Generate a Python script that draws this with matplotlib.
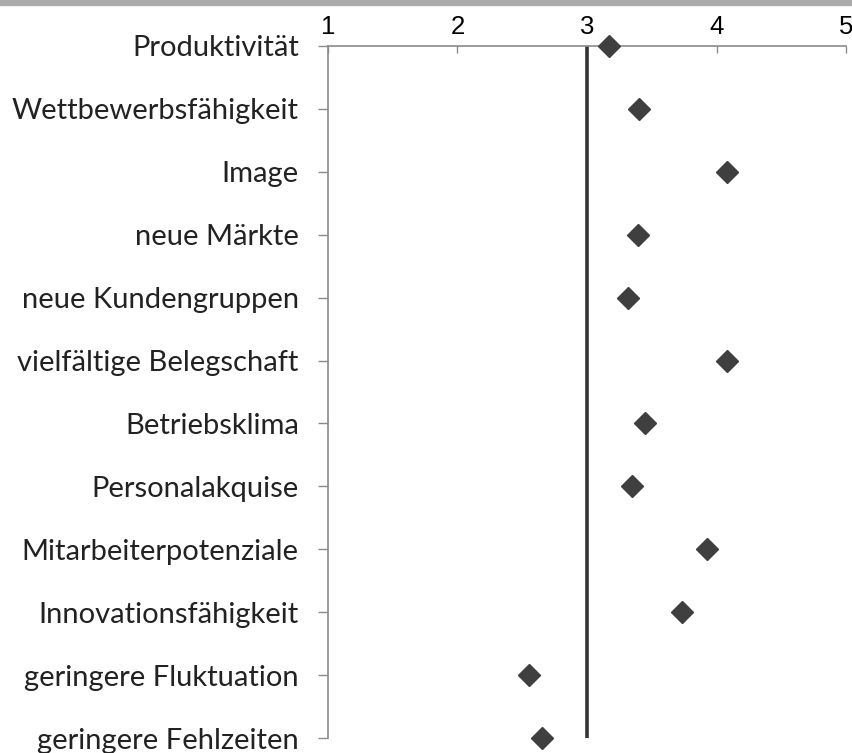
import matplotlib
matplotlib.use("Agg")
import matplotlib.pyplot as plt
from matplotlib.patches import Rectangle

categories = ["Produktivität", "Wettbewerbsfähigkeit", "Image", "neue Märkte",
              "neue Kundengruppen", "vielfältige Belegschaft", "Betriebsklima",
              "Personalakquise", "Mitarbeiterpotenziale", "Innovationsfähigkeit",
              "geringere Fluktuation", "geringere Fehlzeiten"]
values = [3.17, 3.40, 4.08, 3.39, 3.32, 4.08, 3.45, 3.35, 3.93, 3.73, 2.55, 2.65]
xticks = [1, 2, 3, 4, 5]
reference = 3

W, H = 853, 753
fig = plt.figure(figsize=(W / 100, H / 100), dpi=100)
fig.patches.append(Rectangle((0, 1 - 5 / H), 1, 5 / H, transform=fig.transFigure,
                             color="#ababab", zorder=0))

ax = fig.add_axes([328 / W, 1 - 738 / H, (846 - 328) / W, (738 - 46) / H])
ypos = list(range(len(categories)))
ax.set_xlim(1, 5)
ax.set_ylim(len(categories) - 1, 0)

ax.axvline(reference, color="#333333", lw=2.6, zorder=2)
ax.plot(values, ypos, linestyle="none", marker="D", markersize=11.0,
        color="#3f3f3f", clip_on=False, zorder=3)

for s in ["right", "bottom"]:
    ax.spines[s].set_visible(False)
for s in ["top", "left"]:
    ax.spines[s].set_color("#8a8a8a")
    ax.spines[s].set_linewidth(1.2)

ax.xaxis.tick_top()
ax.set_xticks(xticks)
ax.set_xticklabels([str(t) for t in xticks], family="Liberation Sans", fontsize=18.5)
ax.tick_params(axis="x", direction="in", length=5, width=1, color="#8a8a8a", pad=5)

ax.set_yticks(ypos)
ax.set_yticklabels(categories, family="Lato", fontsize=21, color="#222222")
ax.tick_params(axis="y", direction="out", length=7, width=1, color="#8a8a8a", pad=14)

fig.savefig("out.png", dpi=100)
